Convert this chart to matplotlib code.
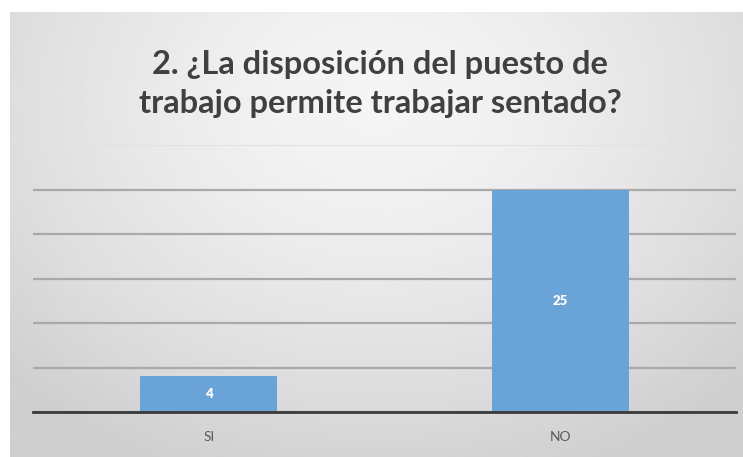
import numpy as np
import matplotlib.pyplot as plt

categories = ['SI', 'NO']
values = [4, 25]
title = '2. ¿La disposición del puesto de\ntrabajo permite trabajar sentado?'

fig = plt.figure(figsize=(7.43, 4.57), dpi=100)
fig.patch.set_facecolor('white')

# background panel with a soft radial gradient
bg = fig.add_axes([10 / 743, 0, 733 / 743, 1 - 12 / 457])
yy, xx = np.mgrid[0:1:200j, 0:1:300j]
r = np.sqrt(((xx - 0.5) / 0.7) ** 2 + ((yy - 0.2) / 0.9) ** 2)
grad = 0.96 - 0.15 * np.clip(r, 0, 1) ** 1.5
bg.imshow(grad, cmap='gray', vmin=0, vmax=1, aspect='auto', extent=[0, 1, 0, 1],
          interpolation='bilinear')
bg.axis('off')

# plot area: baseline y=412, y=30 at 145
ax = fig.add_axes([33 / 743, (457 - 412) / 457, 703 / 743, (412 - 145) / 457])
ax.patch.set_alpha(0)
x = np.arange(len(categories))
bars = ax.bar(x, values, width=0.39, color='#6aa3d8', zorder=3)
ax.set_xlim(-0.5, 1.5)
ax.set_ylim(0, 30)
ax.set_yticks(np.arange(0, 31, 5))
ax.yaxis.grid(True, color='#a9a9a9', linewidth=1.6, zorder=0)
ax.tick_params(axis='y', left=False, labelleft=False)
ax.tick_params(axis='x', bottom=False, labelsize=10, colors='#595959', pad=10)
ax.set_xticks(x)
ax.set_xticklabels(categories, family='Lato')
for s in ['top', 'right', 'left']:
    ax.spines[s].set_visible(False)
ax.spines['bottom'].set_color('#3a3a3a')
ax.spines['bottom'].set_linewidth(2)
ax.spines['bottom'].set_zorder(4)
ax.get_ygridlines()[-1].set_color('#e2e2e2')

for b, v in zip(bars, values):
    ax.text(b.get_x() + b.get_width() / 2, v / 2, str(v), ha='center', va='center',
            color='white', fontsize=9.5, fontweight='heavy', family='Lato', zorder=5)

fig.text(0.512, 1 - 84 / 457, title, ha='center', va='center', fontsize=23.5,
         fontweight='bold', color='#404040', family='Lato', linespacing=1.45)

fig.savefig('out.png', dpi=100)
